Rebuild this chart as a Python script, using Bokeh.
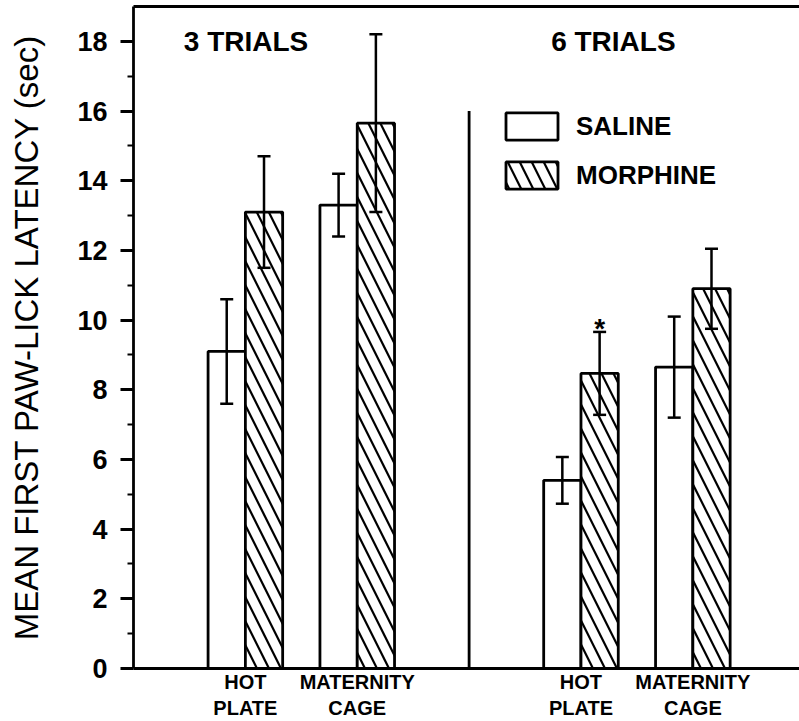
from bokeh.plotting import figure
from bokeh.models import (Range1d, FixedTicker, LinearAxis, Whisker, TeeHead,
                          ColumnDataSource, Legend, LegendItem)
from bokeh.core.properties import value
from bokeh.embed import file_html
from bokeh.resources import INLINE

# ---------------- data ----------------
groups = ["3 TRIALS", "6 TRIALS"]
conditions = ["HOT\nPLATE", "MATERNITY\nCAGE"]
treatments = ["SALINE", "MORPHINE"]
saline_mean = [9.1, 13.3, 5.4, 8.65]
saline_sem = [1.5, 0.9, 0.67, 1.45]
morphine_mean = [13.1, 15.65, 8.47, 10.9]
morphine_sem = [1.6, 2.55, 1.19, 1.15]
significant = [False, False, True, False]
y_major = list(range(0, 19, 2))
y_minor = list(range(1, 18, 2))
divider_top = 16

# ---------------- layout ----------------
FONT = "Liberation Sans"
GROUP_STEP = 9
COND_STEP = 3
FIRST_BAR = 2.5
title_x = [1.35, 11.2]
title_y = 18.0

sal_x, mor_x, centers, labels = [], [], [], {}
for g in range(len(groups)):
    for c in range(len(conditions)):
        base = FIRST_BAR + GROUP_STEP * g + COND_STEP * c
        sal_x.append(base)
        mor_x.append(base + 1)
        centers.append(base + 0.5)
        labels[base + 0.5] = conditions[c]

p = figure(width=799, height=721, x_range=Range1d(0, 17.86), y_range=Range1d(0, 19),
           output_backend="svg", toolbar_location=None,
           min_border_left=133, min_border_right=0, min_border_top=6, min_border_bottom=50)
p.grid.visible = False
p.outline_line_color = None
p.background_fill_color = "white"
p.border_fill_color = "white"

LW = 2.8
sal_src = ColumnDataSource(dict(x=sal_x, top=saline_mean,
                                lo=[m - s for m, s in zip(saline_mean, saline_sem)],
                                hi=[m + s for m, s in zip(saline_mean, saline_sem)]))
mor_src = ColumnDataSource(dict(x=mor_x, top=morphine_mean,
                                lo=[m - s for m, s in zip(morphine_mean, morphine_sem)],
                                hi=[m + s for m, s in zip(morphine_mean, morphine_sem)]))

r_s = p.vbar(x="x", top="top", bottom=0, width=1.0, source=sal_src,
             fill_color="white", line_color="black", line_width=LW)
r_m = p.vbar(x="x", top="top", bottom=0, width=1.0, source=mor_src,
             fill_color="white", line_color="black", line_width=LW,
             hatch_pattern="left_diagonal_line", hatch_color="black",
             hatch_weight=2.2, hatch_scale=24)

for src in (sal_src, mor_src):
    w = Whisker(base="x", upper="hi", lower="lo", source=src, line_width=2.5,
                level="overlay",
                upper_head=TeeHead(size=13, line_width=2.5),
                lower_head=TeeHead(size=13, line_width=2.5))
    p.add_layout(w)

# divider between trial blocks
p.segment(x0=[GROUP_STEP], y0=[0], x1=[GROUP_STEP], y1=[divider_top],
          line_color="black", line_width=2.8)

# significance marker
star_x = [mor_x[i] for i in range(4) if significant[i]]
star_y = [morphine_mean[i] + morphine_sem[i] + 0.1 for i in range(4) if significant[i]]
p.text(x=star_x, y=star_y, text=["*"] * len(star_x), text_align="center",
       text_baseline="alphabetic", text_font=value(FONT), text_font_style="bold",
       text_font_size="28px", text_color="black")

# block titles
p.text(x=title_x, y=[title_y] * 2, text=groups, text_align="left",
       text_baseline="middle", text_font=value(FONT), text_font_style="bold",
       text_font_size="28px", text_color="black")

# axes
xa = p.xaxis[0]
xa.ticker = FixedTicker(ticks=centers, minor_ticks=[])
xa.major_label_overrides = labels
xa.major_tick_out = 0
xa.major_tick_in = 0
xa.axis_line_width = 2.8
xa.major_label_standoff = 2
xa.major_label_text_font = FONT
xa.major_label_text_font_style = "bold"
xa.major_label_text_font_size = "20px"
xa.major_label_text_color = "black"

ya = p.yaxis[0]
ya.ticker = FixedTicker(ticks=y_major, minor_ticks=y_minor)
ya.major_tick_out = 13
ya.major_tick_in = 0
ya.minor_tick_out = 6
ya.minor_tick_in = 0
ya.major_tick_line_width = 2.8
ya.minor_tick_line_width = 2.2
ya.axis_line_width = 2.8
ya.major_label_standoff = 13
ya.major_label_text_font = FONT
ya.major_label_text_font_style = "bold"
ya.major_label_text_font_size = "27px"
ya.major_label_text_color = "black"
ya.axis_label = "MEAN FIRST PAW-LICK LATENCY (sec)"
ya.axis_label_text_font = FONT
ya.axis_label_text_font_style = "normal"
ya.axis_label_text_font_size = "33px"
ya.axis_label_text_color = "black"
ya.axis_label_standoff = 29

top = LinearAxis(ticker=FixedTicker(ticks=[], minor_ticks=[]), major_tick_out=0,
                 major_tick_in=0, minor_tick_out=0, minor_tick_in=0,
                 major_label_standoff=0, axis_line_width=2.8)
p.add_layout(top, "above")

legend = Legend(items=[LegendItem(label=treatments[0], renderers=[r_s]),
                       LegendItem(label=treatments[1], renderers=[r_m])],
                location=(366, 476), orientation="vertical",
                glyph_width=65, glyph_height=34, label_height=34, spacing=15,
                label_standoff=12, padding=0, margin=0,
                border_line_color=None, background_fill_alpha=0,
                label_text_font=FONT, label_text_font_style="bold",
                label_text_font_size="26px", label_text_color="black")
p.add_layout(legend)

open("out.html", "w").write(file_html(p, INLINE))
